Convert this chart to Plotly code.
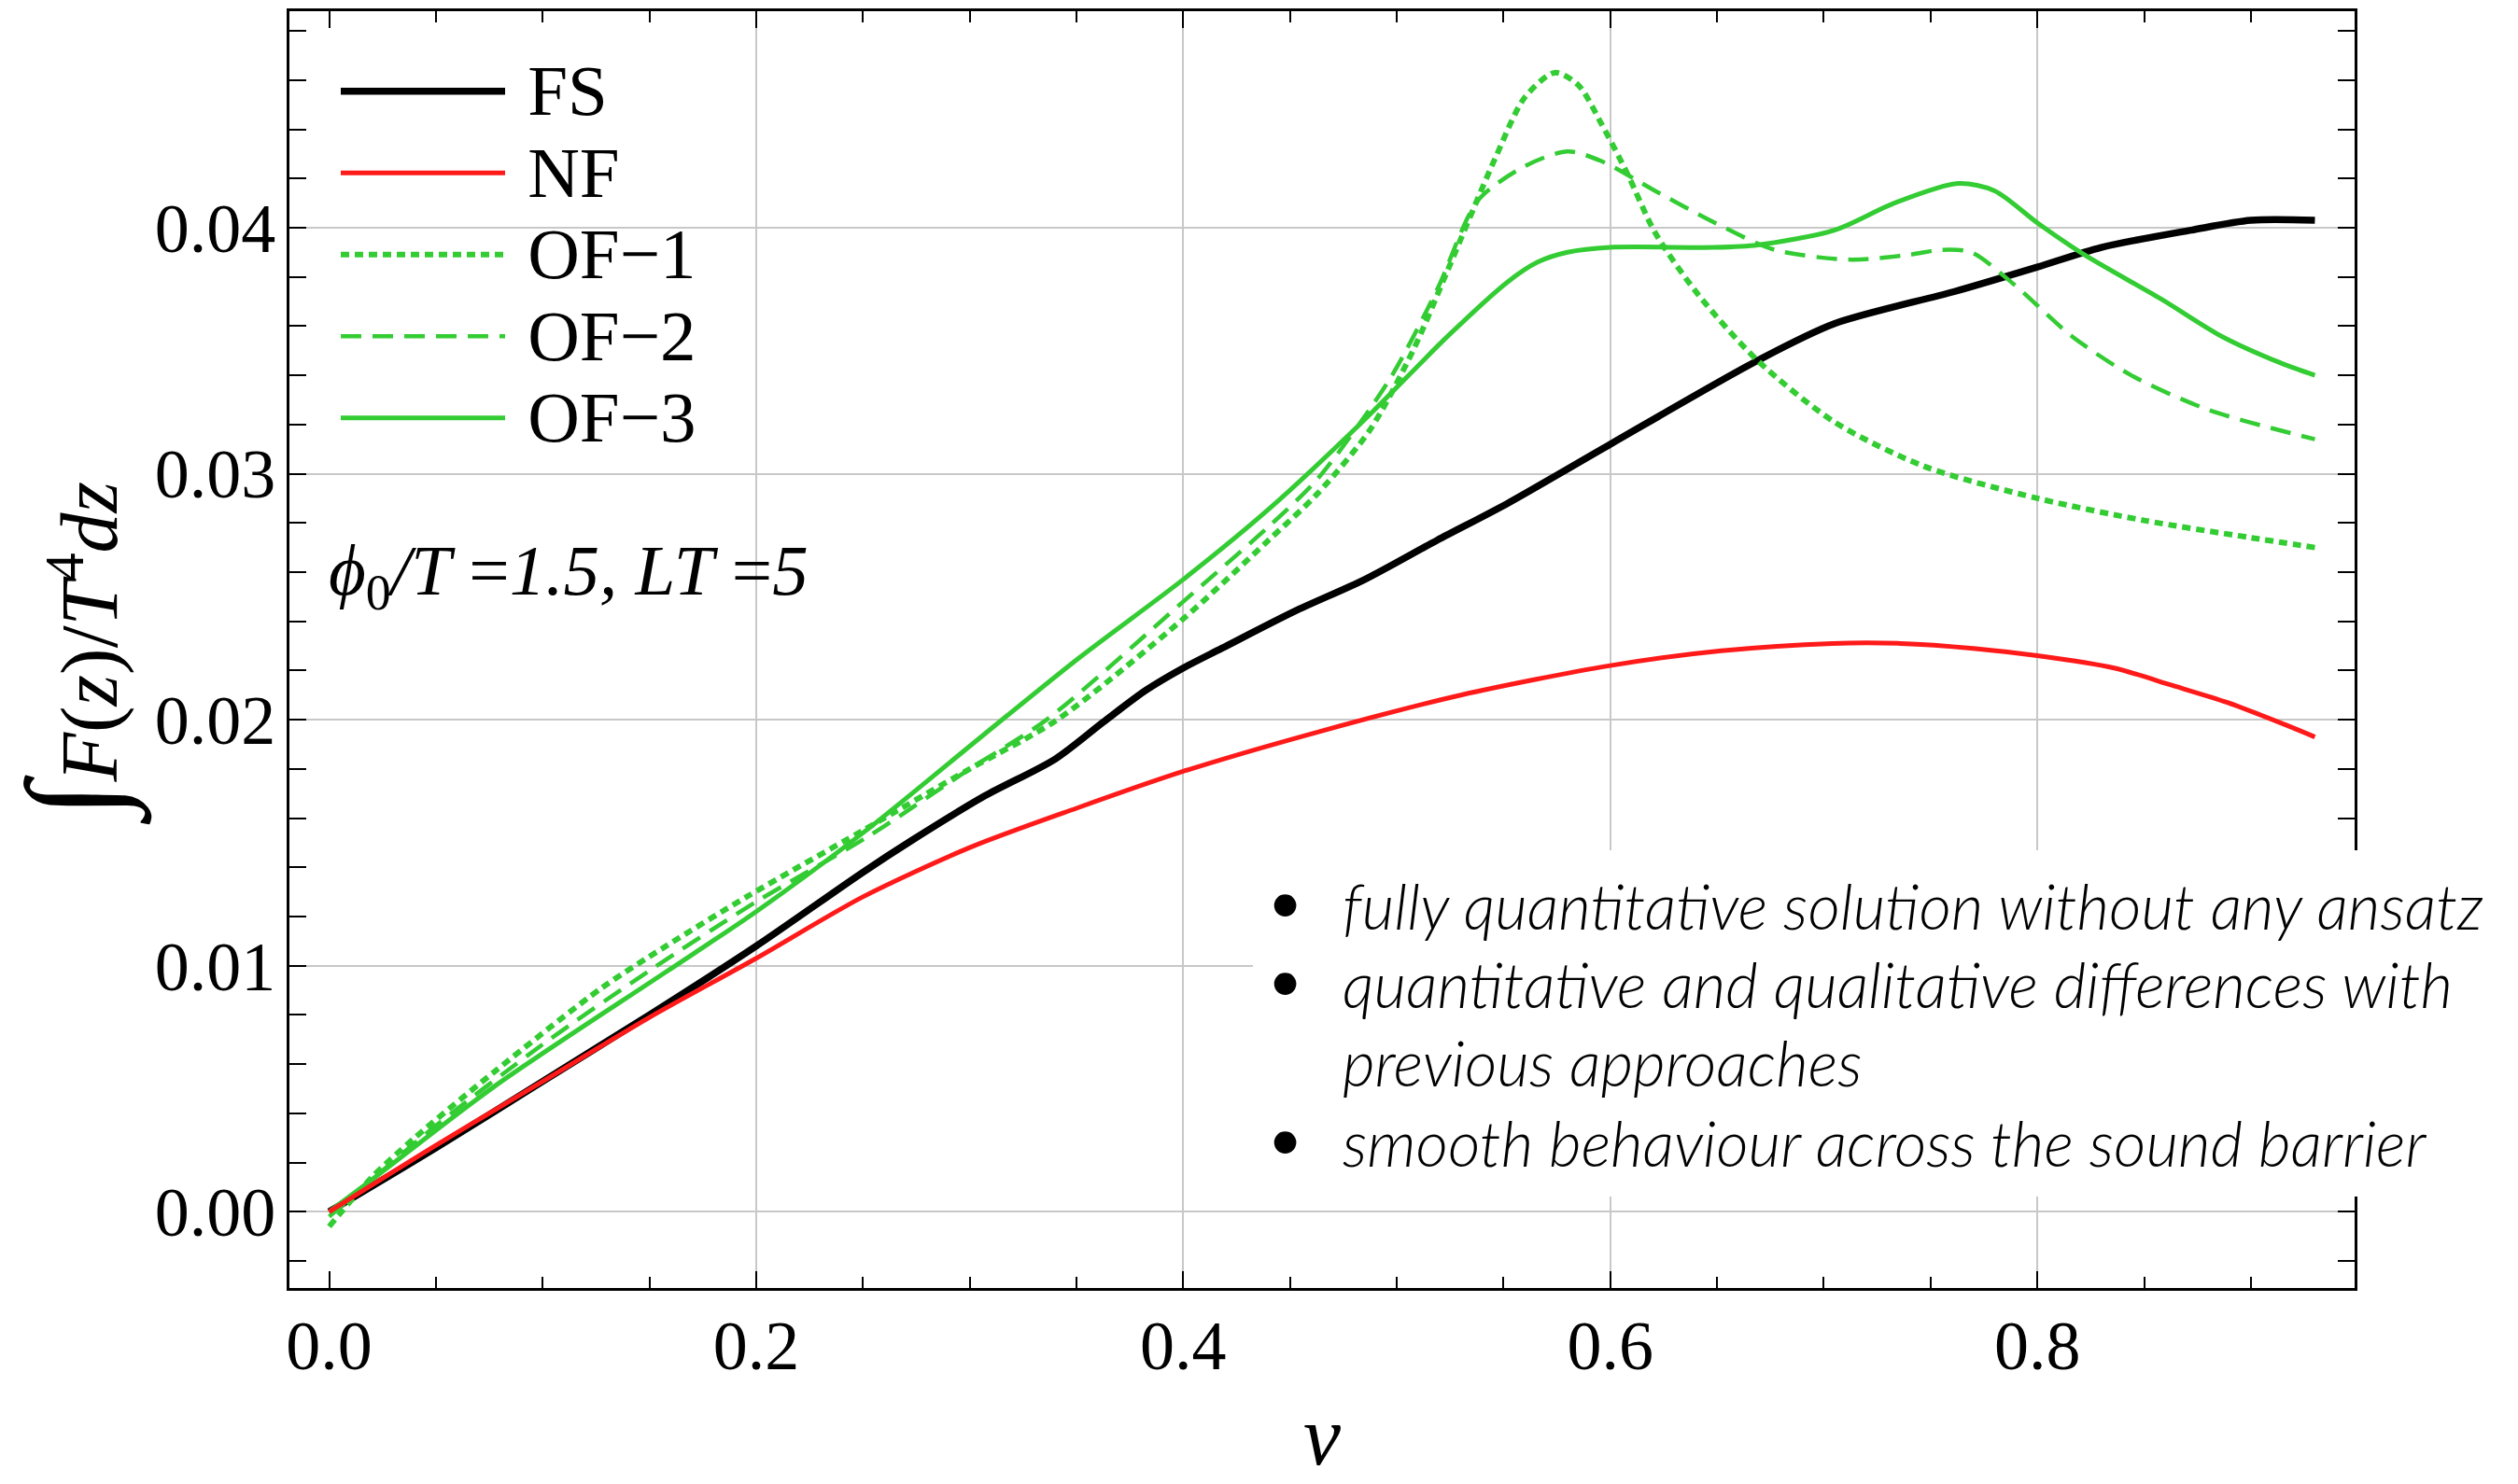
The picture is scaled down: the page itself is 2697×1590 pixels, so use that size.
import plotly.graph_objects as go

# ---------------- data ----------------
fs_v = [0, 0.05, 0.1, 0.15, 0.2, 0.25, 0.273, 0.307, 0.34, 0.3625, 0.3826, 0.4, 0.418,
        0.452, 0.485, 0.519, 0.552, 0.6, 0.669, 0.705, 0.761, 0.8, 0.83,
        0.872, 0.9, 0.93]
fs_val = [0, 0.0026, 0.0053, 0.0080, 0.0108, 0.0138, 0.0151, 0.0169, 0.0184, 0.0199, 0.0212,
          0.0221, 0.0229, 0.0244, 0.0257, 0.0273, 0.0288, 0.0312, 0.0346,
          0.0361, 0.0374, 0.0384, 0.0392, 0.0399, 0.0403, 0.0403]

nf_v = [0, 0.05, 0.1, 0.15, 0.2, 0.25, 0.3, 0.35, 0.4, 0.463, 0.53, 0.6, 0.652, 0.704,
        0.736, 0.77, 0.8, 0.836, 0.863, 0.889, 0.916, 0.93]
nf_val = [0, 0.0027, 0.0053, 0.0079, 0.0103, 0.0128, 0.0148, 0.0164, 0.0179, 0.0195, 0.0210,
          0.0222, 0.0228, 0.0231, 0.0231, 0.0229, 0.0226, 0.0221, 0.0214, 0.0207, 0.0198, 0.0193]

of1_v = [0, 0.02, 0.04, 0.0775, 0.1277, 0.1578, 0.1955, 0.25, 0.3, 0.341, 0.4, 0.44, 0.463,
         0.4876, 0.5076, 0.524, 0.546, 0.56, 0.574, 0.585, 0.596, 0.608, 0.621, 0.641, 0.669,
         0.705, 0.747, 0.8, 0.85, 0.9, 0.93]
of1_val = [-0.0006, 0.0014, 0.0030, 0.0057, 0.0091, 0.0108, 0.0128, 0.0155, 0.0180, 0.0200,
           0.0241, 0.0273, 0.0292, 0.0318, 0.0350, 0.0383, 0.0428, 0.0453, 0.0463, 0.0458,
           0.0442, 0.0422, 0.0398, 0.0373, 0.0346, 0.0321, 0.0303, 0.0290, 0.0281, 0.0274, 0.0270]

of2_v = [0, 0.05, 0.1, 0.15, 0.2, 0.2533, 0.3, 0.336, 0.4, 0.4406, 0.463, 0.4964, 0.519,
         0.538, 0.56, 0.58, 0.596, 0.621, 0.649, 0.677, 0.713, 0.74, 0.755, 0.769, 0.789,
         0.816, 0.844, 0.88, 0.93]
of2_val = [-0.0002, 0.0035, 0.0068, 0.0098, 0.0126, 0.0153, 0.0180, 0.0200, 0.0248, 0.0279,
           0.0298, 0.0338, 0.0375, 0.0411, 0.0425, 0.0431, 0.0427, 0.0415, 0.0402, 0.0391,
           0.0387, 0.0389, 0.0391, 0.0390, 0.0377, 0.0356, 0.0340, 0.0326, 0.0314]

of3_v = [0, 0.02, 0.0775, 0.1578, 0.2, 0.25, 0.3067, 0.351, 0.4, 0.4406, 0.485, 0.524,
         0.552, 0.566, 0.58, 0.6, 0.649, 0.669, 0.705, 0.733, 0.763, 0.78, 0.8, 0.822, 0.858,
         0.886, 0.914, 0.93]
of3_val = [0, 0.0013, 0.0051, 0.00975, 0.0122, 0.0154, 0.0194, 0.0225, 0.0257, 0.0286,
           0.0322, 0.0356, 0.0378, 0.0386, 0.0390, 0.0392, 0.0392, 0.0393, 0.0399, 0.0410,
           0.0418, 0.0415, 0.0402, 0.0389, 0.0371, 0.0356, 0.0345, 0.0340]

series_names = ["FS", "NF", "OF\u22121", "OF\u22122", "OF\u22123"]

x_ticks = [0.0, 0.2, 0.4, 0.6, 0.8]
y_ticks = [0.00, 0.01, 0.02, 0.03, 0.04]
grid_x = [0.2, 0.4, 0.6, 0.8]

bullets = ["fully quantitative solution without any ansatz",
           "quantitative and qualitative differences with",
           "previous approaches",
           "smooth behaviour across the sound barrier"]
bullet_marks = [True, True, False, True]

# ---------------- styling / layout ----------------
W_PAGE, H_PAGE = 2697, 1590
L, R, T, B = 310, 2522, 12, 1380
PW, PH = R - L, B - T


def px(xf):
    return (xf - L) / PW


def py(yf):
    return (B - yf) / PH


def legend_label(s):
    return '<span style="font-size:77px">\u00a0' + s + '</span>'


XR = [-0.0186, 0.9486]
YR = [-0.0031, 0.0488]
GREEN = "#33cc33"
SERIF = "Liberation Serif"
SPL = dict(shape="spline", smoothing=0.8)

fig = go.Figure()
fig.add_trace(go.Scatter(x=fs_v, y=fs_val, name=legend_label(series_names[0]), mode="lines",
                         line=dict(color="black", width=7.5, **SPL)))
fig.add_trace(go.Scatter(x=nf_v, y=nf_val, name=legend_label(series_names[1]), mode="lines", xaxis="x2",
                         line=dict(color="#ff1a1a", width=5, **SPL)))
fig.add_trace(go.Scatter(x=of1_v, y=of1_val, name=legend_label(series_names[2]), mode="lines",
                         line=dict(color=GREEN, width=6, dash="9px,6px", **SPL)))
fig.add_trace(go.Scatter(x=of2_v, y=of2_val, name=legend_label(series_names[3]), mode="lines",
                         line=dict(color=GREEN, width=4.5, dash="22px,12px", **SPL)))
fig.add_trace(go.Scatter(x=of3_v, y=of3_val, name=legend_label(series_names[4]), mode="lines",
                         line=dict(color=GREEN, width=5, **SPL)))

axis_common = dict(showline=True, linecolor="black", linewidth=3, mirror="allticks",
                   ticks="inside", tickcolor="black", tickwidth=2, zeroline=False,
                   tickfont=dict(family=SERIF, size=74, color="black"))

fig.update_layout(
    width=W_PAGE, height=H_PAGE,
    margin=dict(l=L, r=W_PAGE - R, t=T, b=H_PAGE - B, autoexpand=False),
    paper_bgcolor="white", plot_bgcolor="white",
    xaxis=dict(range=XR, tickvals=x_ticks, tickformat=".1f", ticklen=18, showgrid=False,
               minor=dict(dtick=0.05, tick0=0, ticks="inside", ticklen=12, tickwidth=2,
                          tickcolor="black", showgrid=False),
               ticklabelstandoff=-5, automargin=False, **axis_common),
    xaxis2=dict(range=XR, overlaying="x", anchor="y", tickvals=grid_x, showgrid=True,
                gridcolor="#c8c8c8", gridwidth=2, showticklabels=False, ticks="",
                showline=False, zeroline=False),
    yaxis=dict(range=YR, tickvals=y_ticks, tickformat=".2f", ticklen=18, showgrid=True,
               gridcolor="#c8c8c8", gridwidth=2,
               minor=dict(dtick=0.002, tick0=0, ticks="inside", ticklen=12, tickwidth=2,
                          tickcolor="black", showgrid=False),
               ticklabelstandoff=-3,
               title=dict(text='<span style="font-size:140px">\u222b</span><i>F</i>(<i>z</i>)/<i>T</i><sup>4</sup><i>dz</i>',
                          font=dict(family=SERIF, size=86, color="black"), standoff=30),
               automargin=False, **axis_common),
    legend=dict(x=0, y=py(49), xanchor="left", yanchor="top", bgcolor="rgba(0,0,0,0)",
                borderwidth=0, itemwidth=176, indentation=50, tracegroupgap=0,
                font=dict(family=SERIF, size=65, color="black")),
    showlegend=True,
)

# x-axis title at the very bottom edge of the page
fig.add_annotation(xref="paper", yref="paper", x=0.5, y=py(1589), xanchor="center", yanchor="bottom",
                   text="<i>v</i>", showarrow=False, borderpad=0,
                   font=dict(family=SERIF, size=90, color="black"))

# white boxes that hide the grid behind legend / label, and behind the text block
fig.add_shape(type="rect", xref="paper", yref="paper", x0=0, x1=px(801), y0=py(530), y1=1,
              fillcolor="white", line=dict(width=0), layer="between")
fig.add_shape(type="rect", xref="paper", yref="paper", x0=0, x1=px(885), y0=py(695), y1=py(540),
              fillcolor="white", line=dict(width=0), layer="between")
fig.add_shape(type="rect", xref="paper", yref="paper", x0=px(1342), x1=1.2, y0=py(1282), y1=py(911),
              fillcolor="white", line=dict(width=0), layer="above")

fig.add_annotation(xref="paper", yref="paper", x=px(350), y=py(616), xanchor="left", yanchor="middle",
                   text="<i>\u03d5</i><sub>0</sub><i>/T</i> =<i>1.5, LT</i> =<i>5</i>", showarrow=False,
                   font=dict(family=SERIF, size=77, color="black"))

line_y = [970, 1054, 1138, 1224]
for txt, mark, yy in zip(bullets, bullet_marks, line_y):
    fig.add_annotation(xref="paper", yref="paper", x=px(1436), y=py(yy), xanchor="left",
                       yanchor="middle", text=txt, showarrow=False,
                       font=dict(family="Lato", size=67, color="black", weight=300, style="italic"))
    if mark:
        fig.add_annotation(xref="paper", yref="paper", x=px(1376), y=py(yy - 6), xanchor="center",
                           yanchor="middle", text="\u2022", showarrow=False,
                           font=dict(family="Lato", size=64, color="black"))

fig.write_html("out.html")
